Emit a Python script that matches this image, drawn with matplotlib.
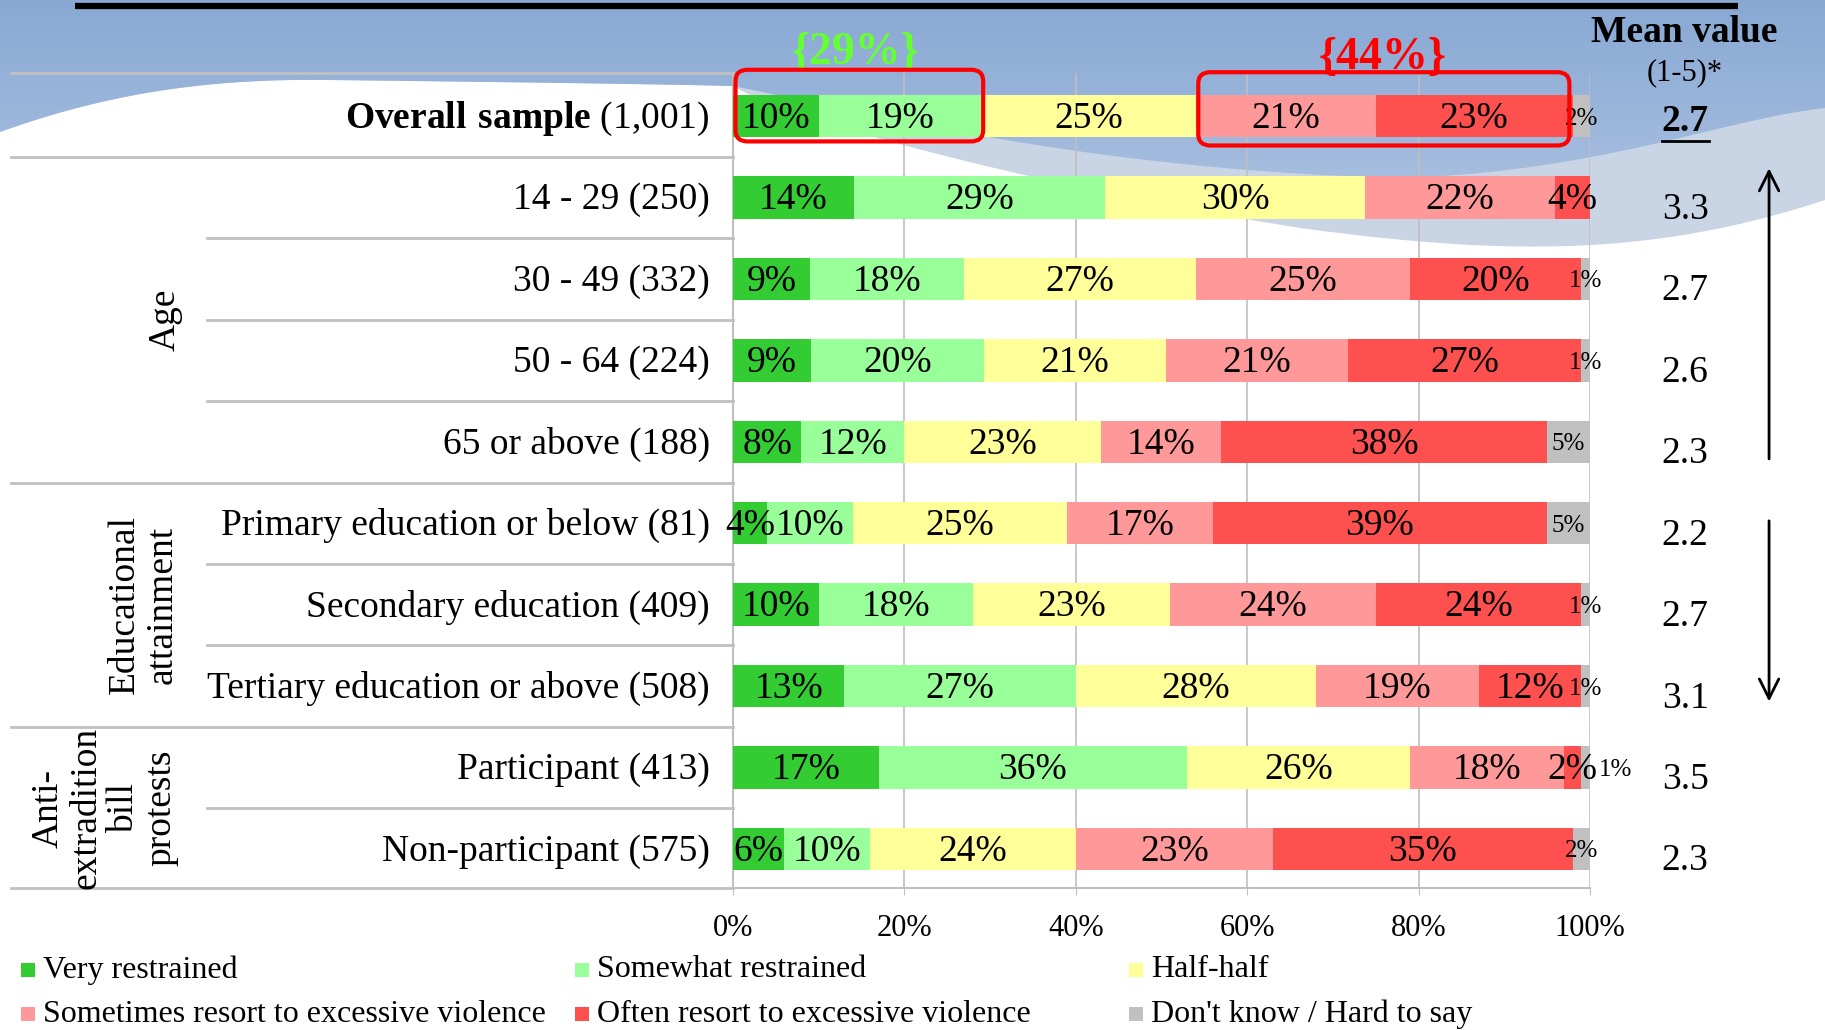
import numpy as np
import matplotlib
matplotlib.use('Agg')
import matplotlib.pyplot as plt
from matplotlib.patches import Polygon, Rectangle, FancyBboxPatch

plt.rcParams['font.family'] = ['Liberation Serif', 'DejaVu Serif']
plt.rcParams['mathtext.fontset'] = 'custom'
plt.rcParams['mathtext.rm'] = 'Liberation Serif'
plt.rcParams['mathtext.bf'] = 'Liberation Serif:bold'

# data
groups = ["Overall sample (1,001)", "14 - 29 (250)", "30 - 49 (332)", "50 - 64 (224)",
          "65 or above (188)", "Primary education or below (81)", "Secondary education (409)",
          "Tertiary education or above (508)", "Participant (413)", "Non-participant (575)"]
very = [10, 14, 9, 9, 8, 4, 10, 13, 17, 6]
somewhat = [19, 29, 18, 20, 12, 10, 18, 27, 36, 10]
half = [25, 30, 27, 21, 23, 25, 23, 28, 26, 24]
sometimes = [21, 22, 25, 21, 14, 17, 24, 19, 18, 23]
often = [23, 4, 20, 27, 38, 39, 24, 12, 2, 35]
dunno = [2, 0, 1, 1, 5, 5, 1, 1, 1, 2]
means = [2.7, 3.3, 2.7, 2.6, 2.3, 2.2, 2.7, 3.1, 3.5, 2.3]
cat_names = ["Very restrained", "Somewhat restrained", "Half-half",
             "Sometimes resort to excessive violence", "Often resort to excessive violence",
             "Don't know / Hard to say"]
colors = ['#33cc33', '#99ff99', '#ffff99', '#ff9999', '#ff5050', '#c0c0c0']
xticks = [0, 20, 40, 60, 80, 100]

fig = plt.figure(figsize=(18.25, 10.3), dpi=100)

# ---- background decoration (pixel coords) ----
bg = fig.add_axes([0, 0, 1, 1], zorder=0)
bg.axis('off')


def bez(p0, p1, p2, p3, n=50):
    t = np.linspace(0, 1, n)[:, None]
    p0, p1, p2, p3 = map(np.array, (p0, p1, p2, p3))
    return (1-t)**3*p0 + 3*(1-t)**2*t*p1 + 3*(1-t)*t**2*p2 + t**3*p3

# white wave boundary, left to right
wave = np.vstack([bez((0, 132), (100, 96), (200, 78), (330, 80)),
                  bez((330, 80), (500, 82), (650, 84), (733, 86)),
                  bez((733, 86), (780, 115), (1000, 180), (1300, 228)),
                  bez((1300, 228), (1500, 255), (1650, 258), (1825, 200))])
light = np.vstack([[[0, 0], [1825, 0]], wave[::-1]])
bg.add_patch(Polygon(light, closed=True, facecolor='#c9d5e5', edgecolor='none'))

blue_edge = np.vstack([bez((0, 132), (100, 96), (200, 78), (330, 80)),
                       bez((330, 80), (500, 82), (650, 84), (733, 86)),
                       bez((733, 86), (900, 120), (1100, 170), (1400, 178)),
                       bez((1400, 178), (1600, 172), (1720, 120), (1825, 108))])
blue_poly = Polygon(np.vstack([[[0, 0], [1825, 0]], blue_edge[::-1]]), closed=True,
                    facecolor='none', edgecolor='none')
bg.add_patch(blue_poly)
grad = np.linspace(0, 1, 256)[:, None]
top_c = np.array([0x88, 0xa8, 0xd3]) / 255
bot_c = np.array([0xa9, 0xc0, 0xe0]) / 255
img = top_c[None, None, :] * (1 - grad[:, :, None]) + bot_c[None, None, :] * grad[:, :, None]
im = bg.imshow(img, extent=[0, 1825, 200, 0], aspect='auto', zorder=1)
im.set_clip_path(blue_poly)
bg.set_xlim(0, 1825)
bg.set_ylim(1030, 0)
bg.plot([75, 1738], [6, 6], color='black', lw=4.5, zorder=3, solid_capstyle='butt')

# ---- main chart ----
ax = fig.add_axes([0.4016, 0.1379, 0.4696, 0.7912], zorder=2)
ax.patch.set_alpha(0)
ax.set_xlim(0, 100)
ax.set_ylim(9.48, -0.53)

data = np.array([very, somewhat, half, sometimes, often, dunno], dtype=float)
widths = data / data.sum(axis=0) * 100
y = np.arange(len(groups))
left = np.zeros(len(groups))
for j in range(6):
    ax.barh(y, widths[j], left=left, height=0.52, color=colors[j], label=cat_names[j], zorder=3)
    for i in range(len(groups)):
        v = data[j, i]
        if v <= 0:
            continue
        xc = left[i] + widths[j, i] / 2
        size = 27 if j < 5 else 18
        if j == 5 and i == 8:
            xc = 103
        ax.text(xc, i + 0.03, f"{int(v)}%", ha='center', va='center', fontsize=size, zorder=4,
                clip_on=False)
    left += widths[j]

ax.set_xticks(xticks)
ax.set_xticklabels([f"{t}%" for t in xticks])
ax.set_yticks([])
ax.xaxis.grid(True, color='#bfbfbf', lw=1.2, zorder=0)
ax.set_axisbelow(True)
ax.tick_params(axis='x', length=5, color='#bfbfbf', labelsize=22, pad=14)
for s in ['top', 'right']:
    ax.spines[s].set_visible(False)
for s in ['left', 'bottom']:
    ax.spines[s].set_color('#bfbfbf')
    ax.spines[s].set_linewidth(1.5)

# row labels and separators
yt = ax.get_yaxis_transform()
for i, g in enumerate(groups):
    if i == 0:
        g = r"$\mathbf{Overall\ sample}$ (1,001)"
    ax.text(-0.027, i + 0.03, g, transform=yt, ha='right', va='center', fontsize=27)

for b in [-0.53, 0.5, 4.5, 7.5, 9.48]:
    ax.plot([-0.842, 0], [b, b], transform=yt, color='#c0c0c0', lw=2, clip_on=False)
for b in [1.5, 2.5, 3.5, 5.5, 6.5, 8.5]:
    ax.plot([-0.614, 0], [b, b], transform=yt, color='#c0c0c0', lw=2, clip_on=False)

ax.text(-0.662, 2.5, "Age", transform=yt, rotation=90, ha='center', va='center', fontsize=27)
ax.text(-0.688, 6, "Educational\nattainment", transform=yt, rotation=90, ha='center',
        va='center', multialignment='center', fontsize=27, linespacing=1.12)
ax.text(-0.733, 8.5, "Anti-\nextradition\nbill\nprotests", transform=yt, rotation=90,
        ha='center', va='center', multialignment='center', fontsize=27, linespacing=1.12)

# mean values
ax.text(1.110, -1.03, "Mean value", transform=yt, ha='center', va='center',
        fontsize=27, fontweight='bold')
ax.text(1.110, -0.53, "(1-5)*", transform=yt, ha='center', va='center', fontsize=22)
for i, m in enumerate(means):
    off = 0.06 if i == 0 else 0.15
    ax.text(1.111, i + off, f"{m:.1f}", transform=yt, ha='center', va='center',
            fontsize=27, fontweight='bold' if i == 0 else 'normal')
ax.plot([1.084, 1.139], [0.31, 0.31], transform=yt, color='black', lw=2, clip_on=False)

ax.annotate('', xy=(1.209, 0.64), xytext=(1.209, 4.21), xycoords=yt, textcoords=yt,
            arrowprops=dict(arrowstyle='->', lw=2, color='black', mutation_scale=35,
                            shrinkA=0, shrinkB=0))
ax.annotate('', xy=(1.209, 7.19), xytext=(1.209, 4.97), xycoords=yt, textcoords=yt,
            arrowprops=dict(arrowstyle='->', lw=2, color='black', mutation_scale=35,
                            shrinkA=0, shrinkB=0))

# highlight boxes
ax.text(14.3, -0.78, "{29%}", ha='center', va='center', fontsize=33, fontweight='bold',
        color='#66ff33', zorder=5)
ax.text(75.8, -0.72, "{44%}", ha='center', va='center', fontsize=33, fontweight='bold',
        color='#ff0000', zorder=5)
for x0, x1, y0, y1 in [(0.3, 29.2, -0.57, 0.31), (54.3, 97.6, -0.54, 0.36)]:
    ax.add_patch(FancyBboxPatch((x0, y0), x1 - x0, y1 - y0,
                                boxstyle="round,pad=0,rounding_size=1.4",
                                mutation_aspect=0.1, fill=False, edgecolor='#ff0000',
                                lw=3, zorder=6, clip_on=False))

# legend (manual 2x3 grid)
for k in range(6):
    col, row = k % 3, k // 3
    xl = 0.0115 + col * 0.3036
    yl = 0.0583 - row * 0.0428
    fig.add_artist(Rectangle((xl, yl - 0.0068), 0.0077, 0.0136, transform=fig.transFigure,
                             facecolor=colors[k], edgecolor='none'))
    fig.text(xl + 0.0121, yl, cat_names[k], ha='left', va='center', fontsize=23)

fig.savefig('out.png', dpi=100)
